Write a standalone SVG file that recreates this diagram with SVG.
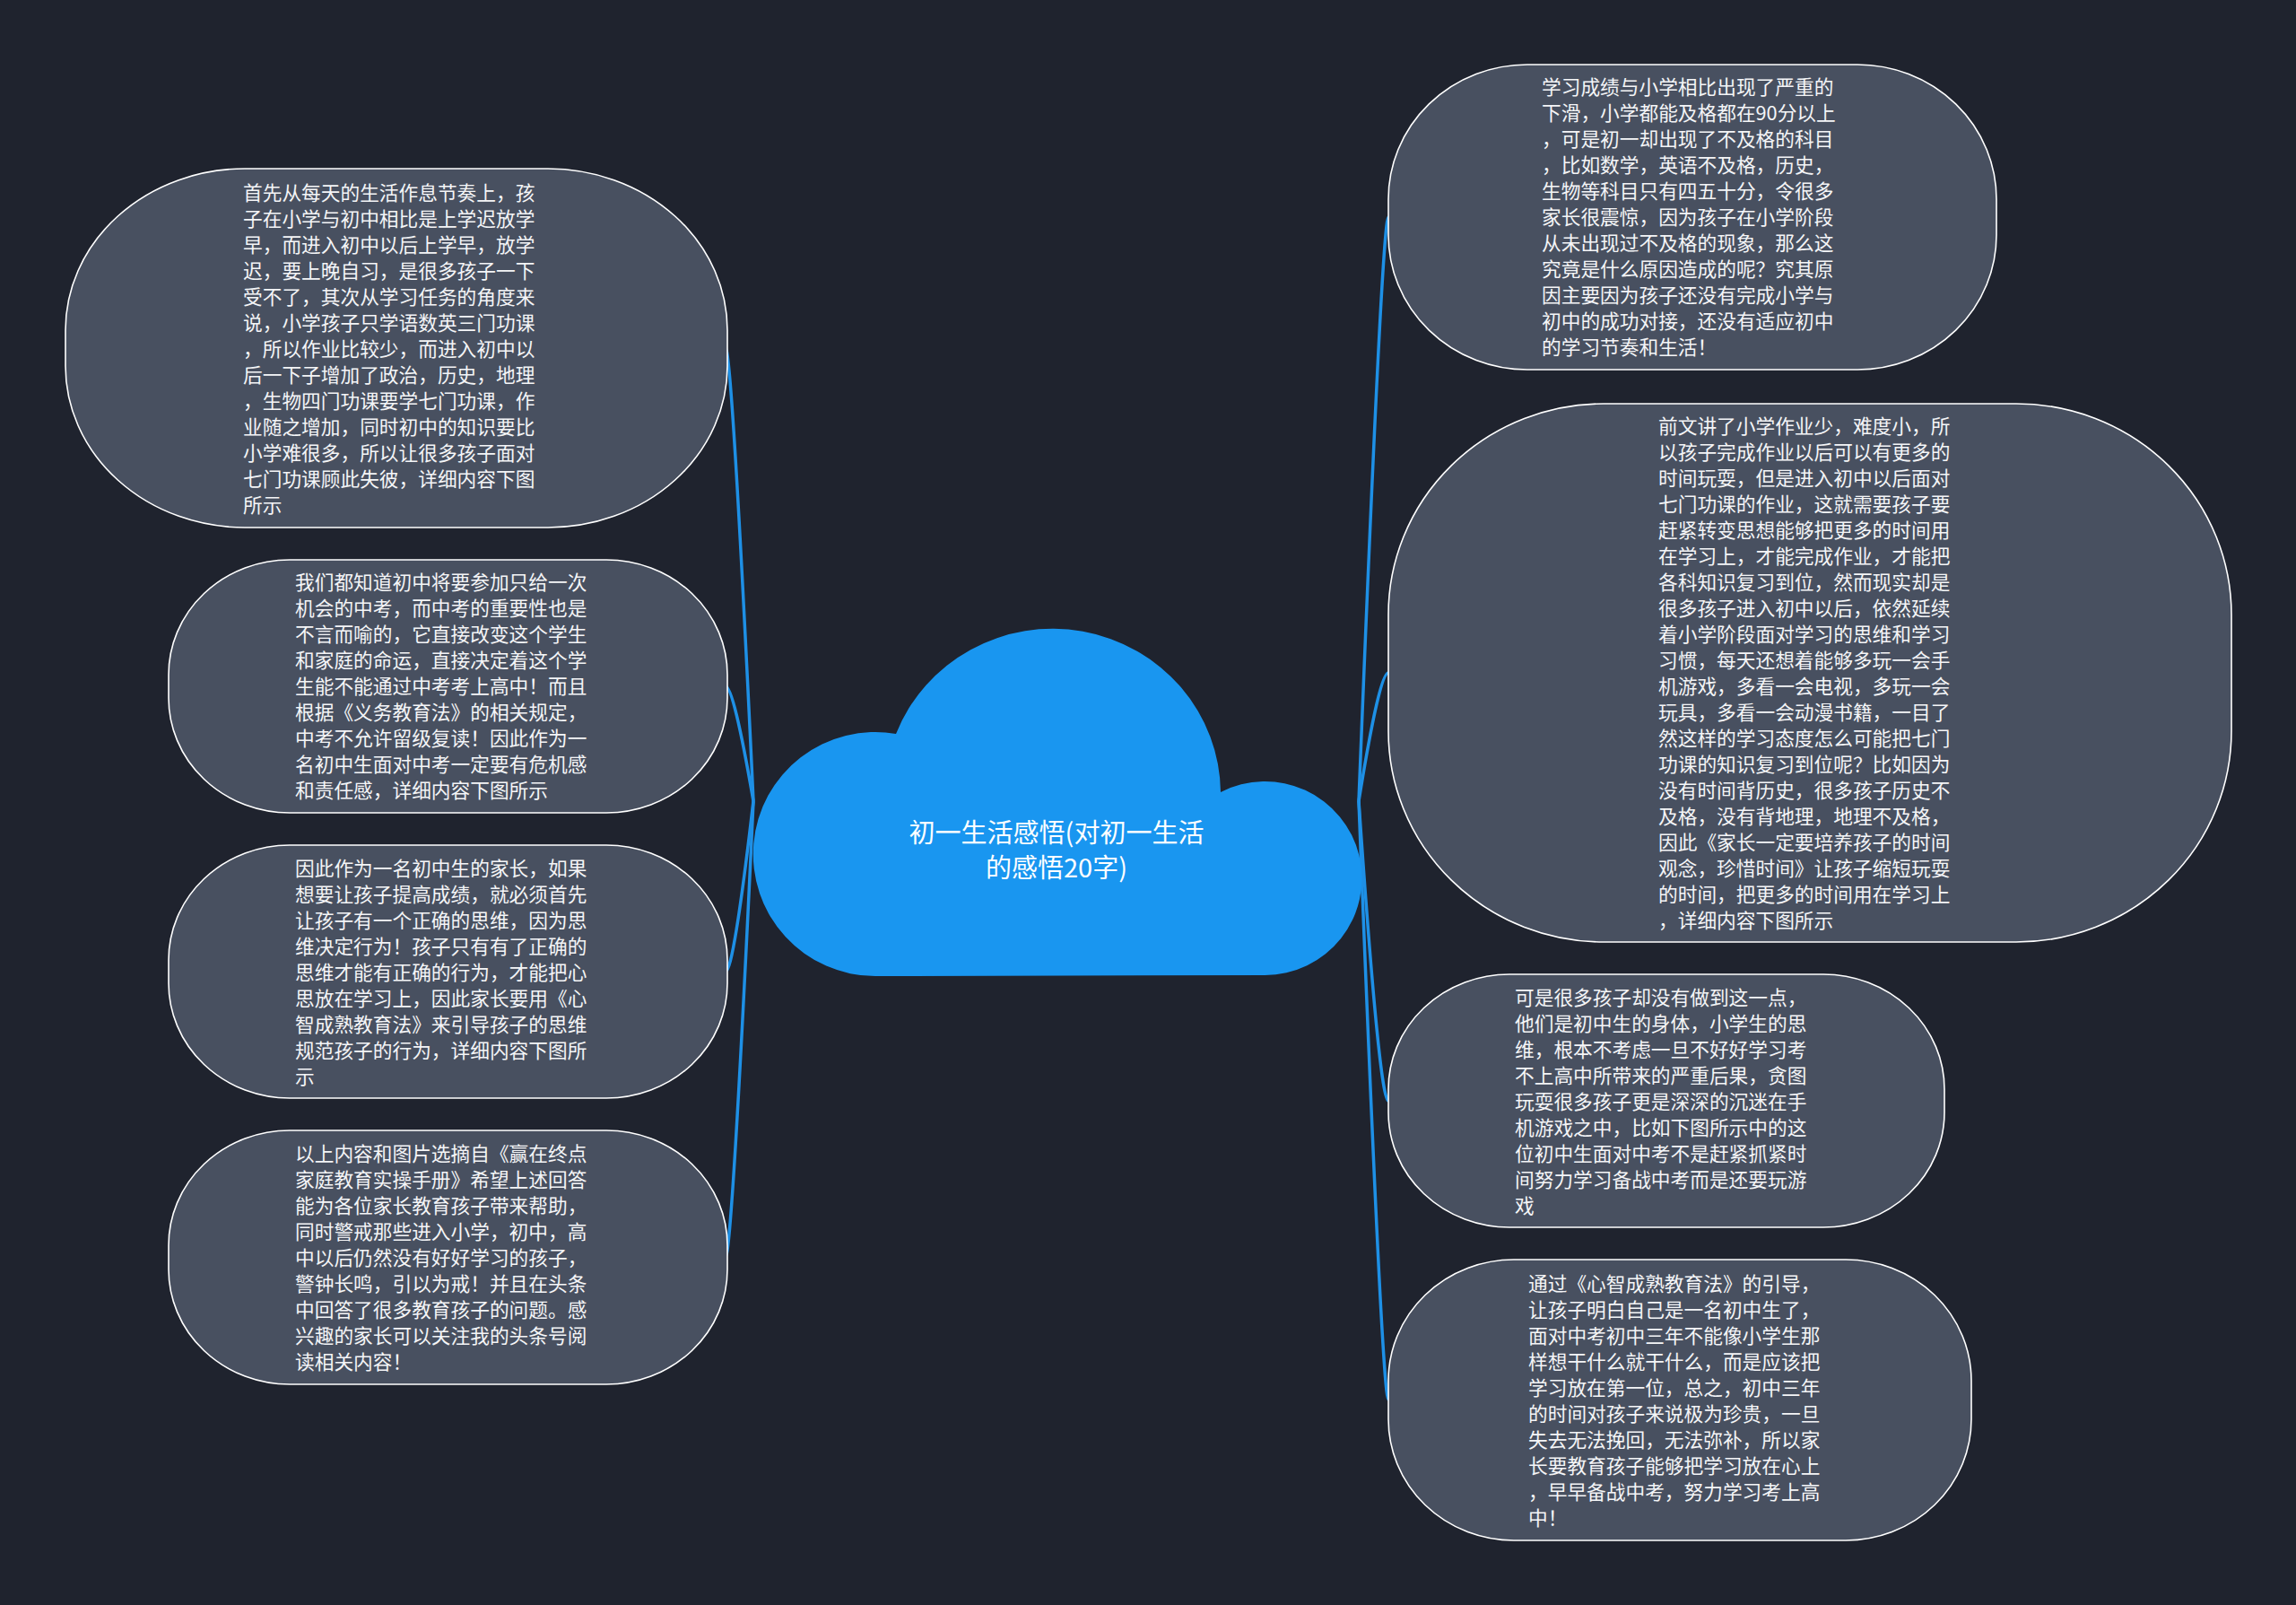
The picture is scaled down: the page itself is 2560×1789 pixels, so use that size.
<svg xmlns="http://www.w3.org/2000/svg" width="2560" height="1789" viewBox="0 0 2560 1789">
<defs>
<style>
.bg{fill:#1f232e}
.node{fill:#485060;stroke:#ffffff;stroke-width:1.6}
.t{font-family:"Noto Sans CJK SC","Noto Sans",sans-serif;font-size:21.7px;fill:#f4f5f7}
.ct{font-family:"Noto Sans CJK SC","Noto Sans",sans-serif;font-size:29px;fill:#ffffff;text-anchor:middle}
.link{fill:none;stroke:#1e90e6;stroke-width:3.5}
.cloud{fill:#1996f0}
</style>
</defs>
<rect class="bg" x="0" y="0" width="2560" height="1789"/>

<g id="connectors">
<path class="link" d="M840 893 Q816 388 809 388"/>
<path class="link" d="M840 893 Q818 765 809 765"/>
<path class="link" d="M840 893 Q818 1083 809 1083"/>
<path class="link" d="M840 893 Q816 1401 809 1401"/>
<path class="link" d="M1515 893 Q1541 242 1548 242"/>
<path class="link" d="M1515 893 Q1538 750 1548 750"/>
<path class="link" d="M1515 893 Q1538 1227 1548 1227"/>
<path class="link" d="M1515 893 Q1541 1560 1548 1560"/>
</g>

<g id="center">
<path class="cloud" d="M976 1088 A136 136 0 1 1 999 818 A187.4 184 0 0 1 1361 883 A108 108 0 1 1 1410 1087 Z"/>
<text class="ct"><tspan x="1178" y="939">初一生活感悟(对初一生活</tspan><tspan x="1178" y="978">的感悟20字)</tspan></text>
</g>

<g id="node-l1">
<rect class="node" x="73" y="188" width="738" height="400" rx="200" ry="180"/>
<text class="t" x="271" y="223"><tspan x="271" dy="0">首先从每天的生活作息节奏上，孩</tspan><tspan x="271" dy="29">子在小学与初中相比是上学迟放学</tspan><tspan x="271" dy="29">早，而进入初中以后上学早，放学</tspan><tspan x="271" dy="29">迟，要上晚自习，是很多孩子一下</tspan><tspan x="271" dy="29">受不了，其次从学习任务的角度来</tspan><tspan x="271" dy="29">说，小学孩子只学语数英三门功课</tspan><tspan x="271" dy="29">，所以作业比较少，而进入初中以</tspan><tspan x="271" dy="29">后一下子增加了政治，历史，地理</tspan><tspan x="271" dy="29">，生物四门功课要学七门功课，作</tspan><tspan x="271" dy="29">业随之增加，同时初中的知识要比</tspan><tspan x="271" dy="29">小学难很多，所以让很多孩子面对</tspan><tspan x="271" dy="29">七门功课顾此失彼，详细内容下图</tspan><tspan x="271" dy="29">所示</tspan></text>
</g>

<g id="node-l2">
<rect class="node" x="188" y="624" width="623" height="282" rx="135" ry="128"/>
<text class="t" x="329" y="657"><tspan x="329" dy="0">我们都知道初中将要参加只给一次</tspan><tspan x="329" dy="29">机会的中考，而中考的重要性也是</tspan><tspan x="329" dy="29">不言而喻的，它直接改变这个学生</tspan><tspan x="329" dy="29">和家庭的命运，直接决定着这个学</tspan><tspan x="329" dy="29">生能不能通过中考考上高中！而且</tspan><tspan x="329" dy="29">根据《义务教育法》的相关规定，</tspan><tspan x="329" dy="29">中考不允许留级复读！因此作为一</tspan><tspan x="329" dy="29">名初中生面对中考一定要有危机感</tspan><tspan x="329" dy="29">和责任感，详细内容下图所示</tspan></text>
</g>

<g id="node-l3">
<rect class="node" x="188" y="942" width="623" height="282" rx="135" ry="128"/>
<text class="t" x="329" y="976"><tspan x="329" dy="0">因此作为一名初中生的家长，如果</tspan><tspan x="329" dy="29">想要让孩子提高成绩，就必须首先</tspan><tspan x="329" dy="29">让孩子有一个正确的思维，因为思</tspan><tspan x="329" dy="29">维决定行为！孩子只有有了正确的</tspan><tspan x="329" dy="29">思维才能有正确的行为，才能把心</tspan><tspan x="329" dy="29">思放在学习上，因此家长要用《心</tspan><tspan x="329" dy="29">智成熟教育法》来引导孩子的思维</tspan><tspan x="329" dy="29">规范孩子的行为，详细内容下图所</tspan><tspan x="329" dy="29">示</tspan></text>
</g>

<g id="node-l4">
<rect class="node" x="188" y="1260" width="623" height="283" rx="135" ry="128"/>
<text class="t" x="329" y="1294"><tspan x="329" dy="0">以上内容和图片选摘自《赢在终点</tspan><tspan x="329" dy="29">家庭教育实操手册》希望上述回答</tspan><tspan x="329" dy="29">能为各位家长教育孩子带来帮助，</tspan><tspan x="329" dy="29">同时警戒那些进入小学，初中，高</tspan><tspan x="329" dy="29">中以后仍然没有好好学习的孩子，</tspan><tspan x="329" dy="29">警钟长鸣，引以为戒！并且在头条</tspan><tspan x="329" dy="29">中回答了很多教育孩子的问题。感</tspan><tspan x="329" dy="29">兴趣的家长可以关注我的头条号阅</tspan><tspan x="329" dy="29">读相关内容！</tspan></text>
</g>

<g id="node-r1">
<rect class="node" x="1548" y="72" width="678" height="340" rx="155" ry="150"/>
<text class="t" x="1719" y="105"><tspan x="1719" dy="0">学习成绩与小学相比出现了严重的</tspan><tspan x="1719" dy="29">下滑，小学都能及格都在90分以上</tspan><tspan x="1719" dy="29">，可是初一却出现了不及格的科目</tspan><tspan x="1719" dy="29">，比如数学，英语不及格，历史，</tspan><tspan x="1719" dy="29">生物等科目只有四五十分，令很多</tspan><tspan x="1719" dy="29">家长很震惊，因为孩子在小学阶段</tspan><tspan x="1719" dy="29">从未出现过不及格的现象，那么这</tspan><tspan x="1719" dy="29">究竟是什么原因造成的呢？究其原</tspan><tspan x="1719" dy="29">因主要因为孩子还没有完成小学与</tspan><tspan x="1719" dy="29">初中的成功对接，还没有适应初中</tspan><tspan x="1719" dy="29">的学习节奏和生活！</tspan></text>
</g>

<g id="node-r2">
<rect class="node" x="1548" y="450" width="940" height="600" rx="240" ry="235"/>
<text class="t" x="1849" y="483"><tspan x="1849" dy="0">前文讲了小学作业少，难度小，所</tspan><tspan x="1849" dy="29">以孩子完成作业以后可以有更多的</tspan><tspan x="1849" dy="29">时间玩耍，但是进入初中以后面对</tspan><tspan x="1849" dy="29">七门功课的作业，这就需要孩子要</tspan><tspan x="1849" dy="29">赶紧转变思想能够把更多的时间用</tspan><tspan x="1849" dy="29">在学习上，才能完成作业，才能把</tspan><tspan x="1849" dy="29">各科知识复习到位，然而现实却是</tspan><tspan x="1849" dy="29">很多孩子进入初中以后，依然延续</tspan><tspan x="1849" dy="29">着小学阶段面对学习的思维和学习</tspan><tspan x="1849" dy="29">习惯，每天还想着能够多玩一会手</tspan><tspan x="1849" dy="29">机游戏，多看一会电视，多玩一会</tspan><tspan x="1849" dy="29">玩具，多看一会动漫书籍，一目了</tspan><tspan x="1849" dy="29">然这样的学习态度怎么可能把七门</tspan><tspan x="1849" dy="29">功课的知识复习到位呢？比如因为</tspan><tspan x="1849" dy="29">没有时间背历史，很多孩子历史不</tspan><tspan x="1849" dy="29">及格，没有背地理，地理不及格，</tspan><tspan x="1849" dy="29">因此《家长一定要培养孩子的时间</tspan><tspan x="1849" dy="29">观念，珍惜时间》让孩子缩短玩耍</tspan><tspan x="1849" dy="29">的时间，把更多的时间用在学习上</tspan><tspan x="1849" dy="29">，详细内容下图所示</tspan></text>
</g>

<g id="node-r3">
<rect class="node" x="1548" y="1086" width="620" height="282" rx="135" ry="128"/>
<text class="t" x="1689" y="1120"><tspan x="1689" dy="0">可是很多孩子却没有做到这一点，</tspan><tspan x="1689" dy="29">他们是初中生的身体，小学生的思</tspan><tspan x="1689" dy="29">维，根本不考虑一旦不好好学习考</tspan><tspan x="1689" dy="29">不上高中所带来的严重后果，贪图</tspan><tspan x="1689" dy="29">玩耍很多孩子更是深深的沉迷在手</tspan><tspan x="1689" dy="29">机游戏之中，比如下图所示中的这</tspan><tspan x="1689" dy="29">位初中生面对中考不是赶紧抓紧时</tspan><tspan x="1689" dy="29">间努力学习备战中考而是还要玩游</tspan><tspan x="1689" dy="29">戏</tspan></text>
</g>

<g id="node-r4">
<rect class="node" x="1548" y="1404" width="650" height="313" rx="140" ry="135"/>
<text class="t" x="1704" y="1439"><tspan x="1704" dy="0">通过《心智成熟教育法》的引导，</tspan><tspan x="1704" dy="29">让孩子明白自己是一名初中生了，</tspan><tspan x="1704" dy="29">面对中考初中三年不能像小学生那</tspan><tspan x="1704" dy="29">样想干什么就干什么，而是应该把</tspan><tspan x="1704" dy="29">学习放在第一位，总之，初中三年</tspan><tspan x="1704" dy="29">的时间对孩子来说极为珍贵，一旦</tspan><tspan x="1704" dy="29">失去无法挽回，无法弥补，所以家</tspan><tspan x="1704" dy="29">长要教育孩子能够把学习放在心上</tspan><tspan x="1704" dy="29">，早早备战中考，努力学习考上高</tspan><tspan x="1704" dy="29">中！</tspan></text>
</g>
</svg>
